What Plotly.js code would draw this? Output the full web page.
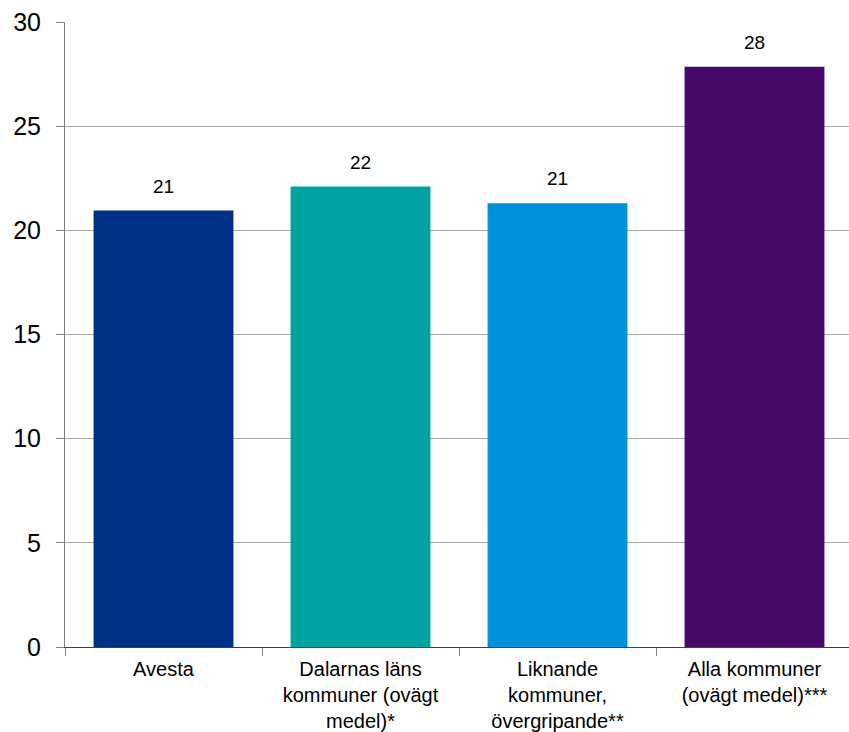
<!DOCTYPE html>
<html>
<head>
<meta charset="utf-8">
<script src="https://cdn.plot.ly/plotly-3.0.1.min.js"></script>
<style>html,body{margin:0;padding:0;background:#fff;overflow:hidden;}#chart{width:853px;height:732px;}</style>
</head>
<body>
<div id="chart"></div>
<script>
const categories = [
  "Avesta",
  "Dalarnas läns<br>kommuner (ovägt<br>medel)*",
  "Liknande<br>kommuner,<br>övergripande**",
  "Alla kommuner<br>(ovägt medel)***"
];
const values = [20.95, 22.1, 21.3, 27.85];
const barColors = ["#003087", "#00A3A1", "#0091DA", "#470A68"];
const yTicks = [0, 5, 10, 15, 20, 25, 30];

const FONT = "Liberation Sans, Arial, sans-serif";

const trace = {
  type: "bar",
  x: categories,
  y: values,
  marker: {color: barColors, line: {width: 0}},
  cliponaxis: false,
  hoverinfo: "none"
};

const annotations = categories.map((c, i) => ({
  x: c,
  y: values[i],
  xref: "x",
  yref: "y",
  text: String(Math.round(values[i])),
  showarrow: false,
  yanchor: "bottom",
  yshift: 12,
  font: {family: FONT, size: 19, color: "#000"}
}));

const layout = {
  width: 853,
  height: 732,
  margin: {l: 65, r: 0, t: 22, b: 85},
  paper_bgcolor: "#fff",
  plot_bgcolor: "#fff",
  showlegend: false,
  bargap: 0.29,
  font: {family: FONT, color: "#000"},
  annotations: annotations,
  xaxis: {
    type: "category",
    showgrid: false,
    showline: true,
    linecolor: "#404040",
    linewidth: 1,
    ticks: "outside",
    tickson: "boundaries",
    ticklen: 8,
    tickcolor: "#808080",
    ticklabelstandoff: 4,
    tickfont: {size: 20, color: "#000"},
    zeroline: false,
    fixedrange: true
  },
  yaxis: {
    range: [0, 30],
    tickvals: yTicks,
    ticktext: yTicks.map(String),
    showgrid: true,
    gridcolor: "#a6a6a6",
    gridwidth: 1,
    showline: true,
    linecolor: "#7f7f7f",
    linewidth: 1,
    ticks: "outside",
    ticklen: 8,
    tickcolor: "#7f7f7f",
    ticklabelstandoff: 10,
    tickfont: {size: 25, color: "#000"},
    zeroline: false,
    fixedrange: true
  }
};

Plotly.newPlot("chart", [trace], layout, {staticPlot: true, displayModeBar: false});
</script>
</body>
</html>
